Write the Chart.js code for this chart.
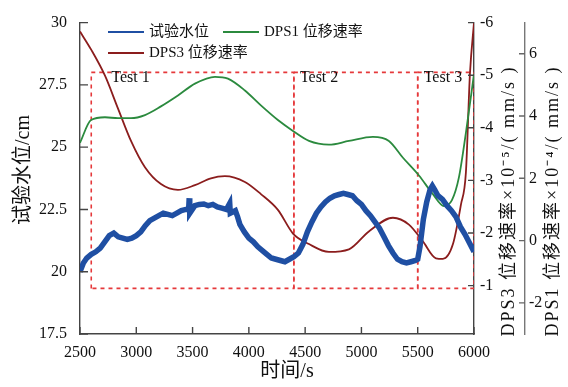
<!DOCTYPE html>
<html>
<head>
<meta charset="utf-8">
<script src="https://cdn.jsdelivr.net/npm/chart.js@4.4.0/dist/chart.umd.min.js"></script>
<style>
  html, body { margin: 0; padding: 0; background: #fff; }
  #wrap { width: 568px; height: 387px; }
</style>
</head>
<body>
<div id="wrap"><canvas id="chart" width="568" height="387"></canvas></div>
<script>
// water level (left axis, cm)
const levelT = [2500,2530,2560,2600,2640,2680,2720,2760,2800,2840,2880,2920,2960,3000,3040,3080,3120,3160,3200,3240,3280,3320,3360,3400,3440,3465,3470,3475,3520,3560,3600,3640,3680,3720,3760,3800,3830,3835,3880,3900,3920,3960,4000,4040,4080,4120,4160,4200,4240,4280,4320,4360,4400,4440,4480,4520,4560,4600,4640,4680,4720,4760,4800,4840,4880,4920,4960,5000,5040,5080,5120,5160,5200,5240,5280,5320,5360,5400,5440,5480,5500,5520,5550,5580,5610,5630,5650,5680,5720,5760,5800,5840,5880,5920,5960,6000];
const levelV = [20.0,20.35,20.55,20.7,20.8,20.95,21.2,21.45,21.55,21.4,21.35,21.3,21.35,21.45,21.6,21.85,22.05,22.15,22.25,22.35,22.3,22.25,22.35,22.45,22.5,22.5,22.95,22.35,22.65,22.7,22.72,22.65,22.7,22.6,22.55,22.5,22.75,22.35,22.45,22.2,21.9,21.6,21.35,21.2,21.0,20.85,20.7,20.55,20.5,20.45,20.4,20.5,20.6,20.75,21.1,21.6,22.0,22.35,22.6,22.8,22.95,23.05,23.1,23.15,23.1,23.05,22.85,22.7,22.45,22.25,22.0,21.75,21.4,21.05,20.75,20.5,20.4,20.35,20.4,20.45,20.5,21.0,22.1,22.8,23.3,23.45,23.3,23.05,22.9,22.65,22.45,22.2,21.8,21.5,21.15,20.8];

// DPS1 rate (x1e-4 mm/s)
const dps1T = [2500,2598,2722,2837,2953,3077,3219,3370,3521,3699,3814,3965,4107,4258,4392,4534,4711,4889,5102,5244,5369,5511,5635,5733,5804,5866,5928,6000];
const dps1V = [3.14,3.87,3.96,3.93,3.93,4.03,4.31,4.66,5.04,5.26,5.2,4.82,4.34,3.87,3.52,3.2,3.08,3.2,3.33,3.2,2.66,2.09,1.49,1.11,1.3,2.03,3.46,5.35];

// DPS3 rate (x1e-5 mm/s)
const dps3T = [2500,2598,2722,2837,2953,3077,3219,3370,3521,3663,3787,3965,4107,4258,4392,4534,4711,4889,5066,5280,5422,5546,5662,5724,5813,5884,5928,5964,6000];
const dps3V = [-5.83,-5.49,-4.99,-4.37,-3.75,-3.25,-2.93,-2.82,-2.91,-3.04,-3.08,-2.97,-2.74,-2.44,-1.99,-1.79,-1.64,-1.69,-2.03,-2.29,-2.16,-1.84,-1.52,-1.51,-1.79,-2.54,-3.15,-5.03,-6.0];

// test windows
const testNames = ["Test 1", "Test 2", "Test 3"];
const testStart = [2600, 4400, 5500];
const testEnd = [4400, 5500, 6000];
const testLow = 19.33, testHigh = 28.0;

const xTicks = [2500,3000,3500,4000,4500,5000,5500,6000];
const levelTicks = [17.5,20,22.5,25,27.5,30];
const dps3Ticks = [-6,-5,-4,-3,-2,-1];
const dps1Ticks = [-2,0,2,4,6];

const serif = "'Liberation Serif', 'Noto Sans CJK SC', serif";
const pts = (t, v) => t.map((x, i) => ({ x: x, y: v[i] }));

const boxSets = testNames.map((n, i) => ({
  label: n,
  data: [{x: testStart[i], y: testLow}, {x: testStart[i], y: testHigh}, {x: testEnd[i], y: testHigh}, {x: testEnd[i], y: testLow}, {x: testStart[i], y: testLow}],
  yAxisID: "y",
  borderColor: "#e5393b",
  borderWidth: 1.6,
  borderDash: [4, 4],
  pointRadius: 0,
  tension: 0,
  fill: false
}));

function setTicks(list) {
  return scale => { scale.ticks = list.map(v => ({ value: v })); };
}

// inward tick marks, titles, legend, test labels
const extras = {
  id: "extras",
  afterDraw(chart) {
    const ctx = chart.ctx;
    const s = chart.scales;
    const a = chart.chartArea;
    ctx.save();
    ctx.strokeStyle = "#444";
    ctx.lineWidth = 1.4;
    ctx.beginPath();
    levelTicks.forEach(v => { const y = s.y.getPixelForValue(v); ctx.moveTo(a.left, y); ctx.lineTo(a.left + 8, y); });
    xTicks.forEach(v => { const x = s.x.getPixelForValue(v); ctx.moveTo(x, a.bottom); ctx.lineTo(x, a.bottom - 7); });
    dps3Ticks.forEach(v => { const y = s.y1.getPixelForValue(v); ctx.moveTo(s.y1.left, y); ctx.lineTo(s.y1.left - 6, y); });
    ctx.stroke();
    ctx.strokeStyle = "#666";
    ctx.beginPath();
    dps1Ticks.forEach(v => { const y = s.y2.getPixelForValue(v); ctx.moveTo(s.y2.left, y); ctx.lineTo(s.y2.left - 6, y); });
    ctx.stroke();

    ctx.fillStyle = "#111";
    ctx.textBaseline = "middle";
    ctx.textAlign = "center";
    ctx.font = "20px " + serif;
    ctx.fillText("时间/s", 287, 372);
    const vtitle = (txt, x, y, size, sp) => {
      ctx.save();
      ctx.translate(x, y);
      ctx.rotate(-Math.PI / 2);
      ctx.font = size + "px " + serif;
      ctx.letterSpacing = sp + "px";
      ctx.fillText(txt, 0, 0);
      ctx.restore();
    };
    vtitle("试验水位/cm", 24, 170, 20, 0);
    vtitle("DPS3 位移速率×10⁻⁵/( mm/s )", 509, 201, 18, 2);
    vtitle("DPS1 位移速率×10⁻⁴/( mm/s )", 553, 201, 18, 2);

    // test labels
    ctx.textAlign = "left";
    ctx.font = "16px " + serif;
    testNames.forEach((n, i) => {
      ctx.fillText(n, s.x.getPixelForValue(testStart[i]) + (i === 0 ? 20 : 6), 78);
    });

    // legend
    const items = [
      { t: "试验水位", c: "#1f4fa3", x: 108, y: 32 },
      { t: "DPS1 位移速率", c: "#2b8a3e", x: 223, y: 32 },
      { t: "DPS3 位移速率", c: "#8b1d1d", x: 108, y: 53 }
    ];
    ctx.font = "15px " + serif;
    items.forEach(it => {
      ctx.strokeStyle = it.c;
      ctx.lineWidth = 2;
      ctx.beginPath();
      ctx.moveTo(it.x, it.y);
      ctx.lineTo(it.x + 36, it.y);
      ctx.stroke();
      ctx.fillStyle = "#111";
      ctx.fillText(it.t, it.x + 41, it.y);
    });
    ctx.restore();
  }
};

const tickFont = { family: serif, size: 16 };

new Chart(document.getElementById("chart"), {
  type: "line",
  data: {
    datasets: [
      {
        label: "试验水位",
        data: pts(levelT, levelV),
        yAxisID: "y",
        borderColor: "#1f4fa3",
        borderWidth: 5.5,
        pointRadius: 0,
        tension: 0
      },
      {
        label: "DPS1 位移速率",
        data: pts(dps1T, dps1V),
        yAxisID: "y2",
        borderColor: "#2b8a3e",
        borderWidth: 1.8,
        pointRadius: 0,
        cubicInterpolationMode: "monotone"
      },
      {
        label: "DPS3 位移速率",
        data: pts(dps3T, dps3V),
        yAxisID: "y1",
        borderColor: "#8b1d1d",
        borderWidth: 1.8,
        pointRadius: 0,
        cubicInterpolationMode: "monotone"
      },
      ...boxSets
    ]
  },
  options: {
    responsive: false,
    animation: false,
    layout: { padding: { top: 18, left: 0, right: 0, bottom: 0 } },
    plugins: { legend: { display: false }, tooltip: { enabled: false } },
    scales: {
      x: {
        type: "linear",
        min: 2500, max: 6000,
        afterBuildTicks: setTicks(xTicks),
        afterFit: sc => { sc.height = 53; },
        grid: { display: false, drawTicks: false },
        border: { color: "#444", width: 1.4 },
        ticks: { color: "#111", font: tickFont, padding: 9, callback: v => String(v), maxRotation: 0 }
      },
      y: {
        position: "left",
        min: 17.5, max: 30,
        afterBuildTicks: setTicks(levelTicks),
        afterFit: sc => { sc.width = 80; },
        grid: { display: false, drawTicks: false },
        border: { color: "#444", width: 1.4 },
        ticks: { color: "#111", font: tickFont, padding: 13, callback: v => String(v) }
      },
      y1: {
        position: "right",
        weight: 1,
        reverse: true,
        min: -6, max: -0.08,
        afterBuildTicks: setTicks(dps3Ticks),
        afterFit: sc => { sc.width = 51; },
        grid: { display: false, drawTicks: false },
        border: { color: "#444", width: 1.4 },
        ticks: { color: "#111", font: tickFont, padding: 6, callback: v => String(v) }
      },
      y2: {
        position: "right",
        weight: 2,
        min: -3, max: 7,
        afterBuildTicks: setTicks(dps1Ticks),
        afterFit: sc => { sc.width = 43; },
        grid: { display: false, drawTicks: false },
        border: { color: "#777", width: 1.4 },
        ticks: { color: "#111", font: tickFont, padding: 4, callback: v => String(v) }
      }
    }
  },
  plugins: [extras]
});
</script>
</body>
</html>
